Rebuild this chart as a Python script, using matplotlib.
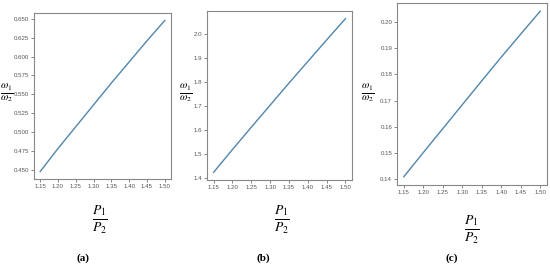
import matplotlib
matplotlib.use("Agg")
import matplotlib.pyplot as plt

plt.rcParams["mathtext.fontset"] = "stix"

x = [1.15, 1.20, 1.25, 1.30, 1.35, 1.40, 1.45, 1.50]
ya = [0.4475, 0.478, 0.507, 0.536, 0.565, 0.593, 0.621, 0.648]
yb = [1.425, 1.520, 1.613, 1.705, 1.797, 1.887, 1.977, 2.066]
yc = [0.1410, 0.1502, 0.1593, 0.1684, 0.1775, 0.1865, 0.1953, 0.2040]
captions = ["(a)", "(b)", "(c)"]

fig = plt.figure(figsize=(5.5, 2.65), dpi=100)
boxes = [
    [0.0618, 0.3245, 0.249, 0.6264],
    [0.3764, 0.3208, 0.2636, 0.6377],
    [0.7218, 0.3019, 0.2727, 0.6868],
]
ylabel_pos = [(7, 93), (186, 93), (368, 93)]
xlabel_pos = [(100, 220), (282, 220), (472, 230)]
cap_pos = [(83, 258), (263, 258), (452, 258)]
ys = [ya, yb, yc]
yticks = [
    [0.450, 0.475, 0.500, 0.525, 0.550, 0.575, 0.600, 0.625, 0.650],
    [1.4, 1.5, 1.6, 1.7, 1.8, 1.9, 2.0],
    [0.14, 0.15, 0.16, 0.17, 0.18, 0.19, 0.20],
]
yfmt = ["{:.3f}", "{:.1f}", "{:.2f}"]
xticks = [1.15, 1.20, 1.25, 1.30, 1.35, 1.40, 1.45, 1.50]
tick_font = ["Liberation Sans", "DejaVu Sans"]

W, H = 550, 265
for i in range(3):
    ax = fig.add_axes(boxes[i])
    ax.plot(x, ys[i], color="#4f86ad", lw=1.0)
    ax.set_xticks(xticks)
    ax.set_xticklabels(["{:.2f}".format(t) for t in xticks], family=tick_font)
    ax.set_yticks(yticks[i])
    ax.set_yticklabels([yfmt[i].format(t) for t in yticks[i]], family=tick_font)
    ax.tick_params(labelsize=4.4, colors="#555555", length=2, width=0.5, pad=1.5)
    for s in ax.spines.values():
        s.set_color("#888888")
        s.set_linewidth(0.8)
    fx, fy = ylabel_pos[i]
    fig.text(fx / W, 1 - fy / H, r"$\frac{\omega_1}{\omega_2}$", fontsize=11,
             ha="center", va="center")
    fx, fy = xlabel_pos[i]
    fig.text(fx / W, 1 - fy / H, r"$\frac{P_1}{P_2}$", fontsize=14,
             ha="center", va="center")
    fx, fy = cap_pos[i]
    fig.text(fx / W, 1 - fy / H, captions[i], fontsize=8, fontweight="bold",
             ha="center", va="center", family="Liberation Serif")

fig.savefig("out.png", dpi=100)
